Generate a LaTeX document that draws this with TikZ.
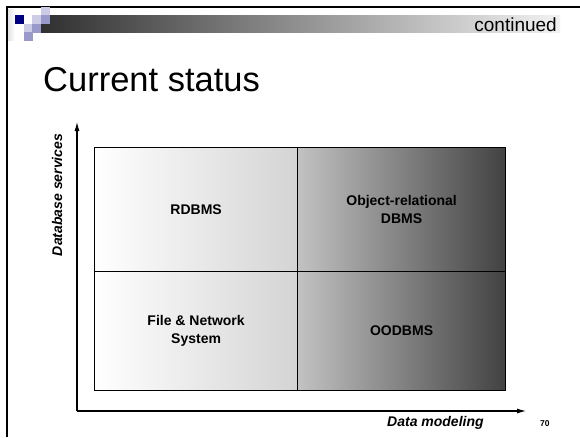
\documentclass[tikz,border=0pt]{standalone}
\usepackage{fontspec}
\setmainfont{Liberation Sans}
\usetikzlibrary{arrows.meta}
\definecolor{logonavy}{RGB}{0,0,128}
\definecolor{logolight}{RGB}{204,204,230}
\definecolor{logomid}{RGB}{153,153,204}
\definecolor{barleft}{RGB}{48,48,48}
\definecolor{barright}{RGB}{242,242,242}
\definecolor{cellA}{RGB}{255,255,255}
\definecolor{cellB}{RGB}{212,212,212}
\definecolor{cellC}{RGB}{194,194,194}
\definecolor{cellD}{RGB}{66,66,66}
\tikzset{
	frame/.style     = {line width=2pt},
	square/.style    = {rectangle, inner sep=0pt, minimum size=8.6pt, anchor=north west},
	cell/.style      = {draw, rectangle, line width=1.2pt, inner sep=0pt, anchor=north west, align=center, font=\fontsize{14}{18}\selectfont\bfseries},
	axis/.style      = {->, line width=1.6pt},
	axislabel/.style = {inner sep=0pt, font=\fontsize{14}{17}\selectfont\bfseries\itshape},
	hidden/.style    = {coordinate},
}

\begin{document}
\begin{tikzpicture}[x=1pt, y=-1pt, >={Latex[length=10pt,width=5pt]}]
		\useasboundingbox (0,0) rectangle (580,437);
		
		% Slide header: frame, bar and logo
		\shade[left color=gray!22, right color=white] (8,9) rectangle (15,40);
		\shade[left color=barleft, right color=barright] (41,15) rectangle (560,32);
		\draw[frame] (7,437) -- (7,7) -- (580,7);
		\foreach \px/\py/\col in {41/7/logolight, 15/15/logonavy, 32/15/logolight, 41/15/logomid,
			24/24/logolight, 32/24/logomid, 24/32/logomid}
			\node[square, fill=\col] at (\px,\py) {};
		\node[anchor=base east, inner sep=0pt, font=\fontsize{19}{22}\selectfont] (continued) at (557,31) {continued};
		\node[anchor=base west, inner sep=0pt, font=\fontsize{34.5}{40}\selectfont] (title) at (43,91) {Current status};
		
		% The four quadrants
		\node[cell, left color=cellA, right color=cellB, minimum width=203pt, minimum height=124pt] (rdbms) at (94,147) {RDBMS};
		\node[cell, left color=cellC, right color=cellD, minimum width=208pt, minimum height=124pt] (ordbms) at (297,147) {Object-relational\\DBMS};
		\node[cell, left color=cellA, right color=cellB, minimum width=203pt, minimum height=119pt] (filesys) at (94,271) {File \& Network\\System};
		\node[cell, left color=cellC, right color=cellD, minimum width=208pt, minimum height=119pt] (oodbms) at (297,271) {OODBMS};
		
		% Axes
		\draw
		node[hidden] (origin) at (77,411) {}
		node[hidden] (ytip) at (77,121) {}
		node[hidden] (xtip) at (527,411) {};
		\draw[axis] (origin) -- (ytip);
		\draw[axis] (origin) -- (xtip);
		\node[axislabel, rotate=90] (services) at (57,195) {Database services};
		\node[axislabel, anchor=base west] (modeling) at (387,426) {Data modeling};
		\node[anchor=base west, inner sep=0pt, font=\fontsize{8.5}{10}\selectfont\bfseries] (pagenum) at (540,426) {70};
	\end{tikzpicture}
\end{document}
